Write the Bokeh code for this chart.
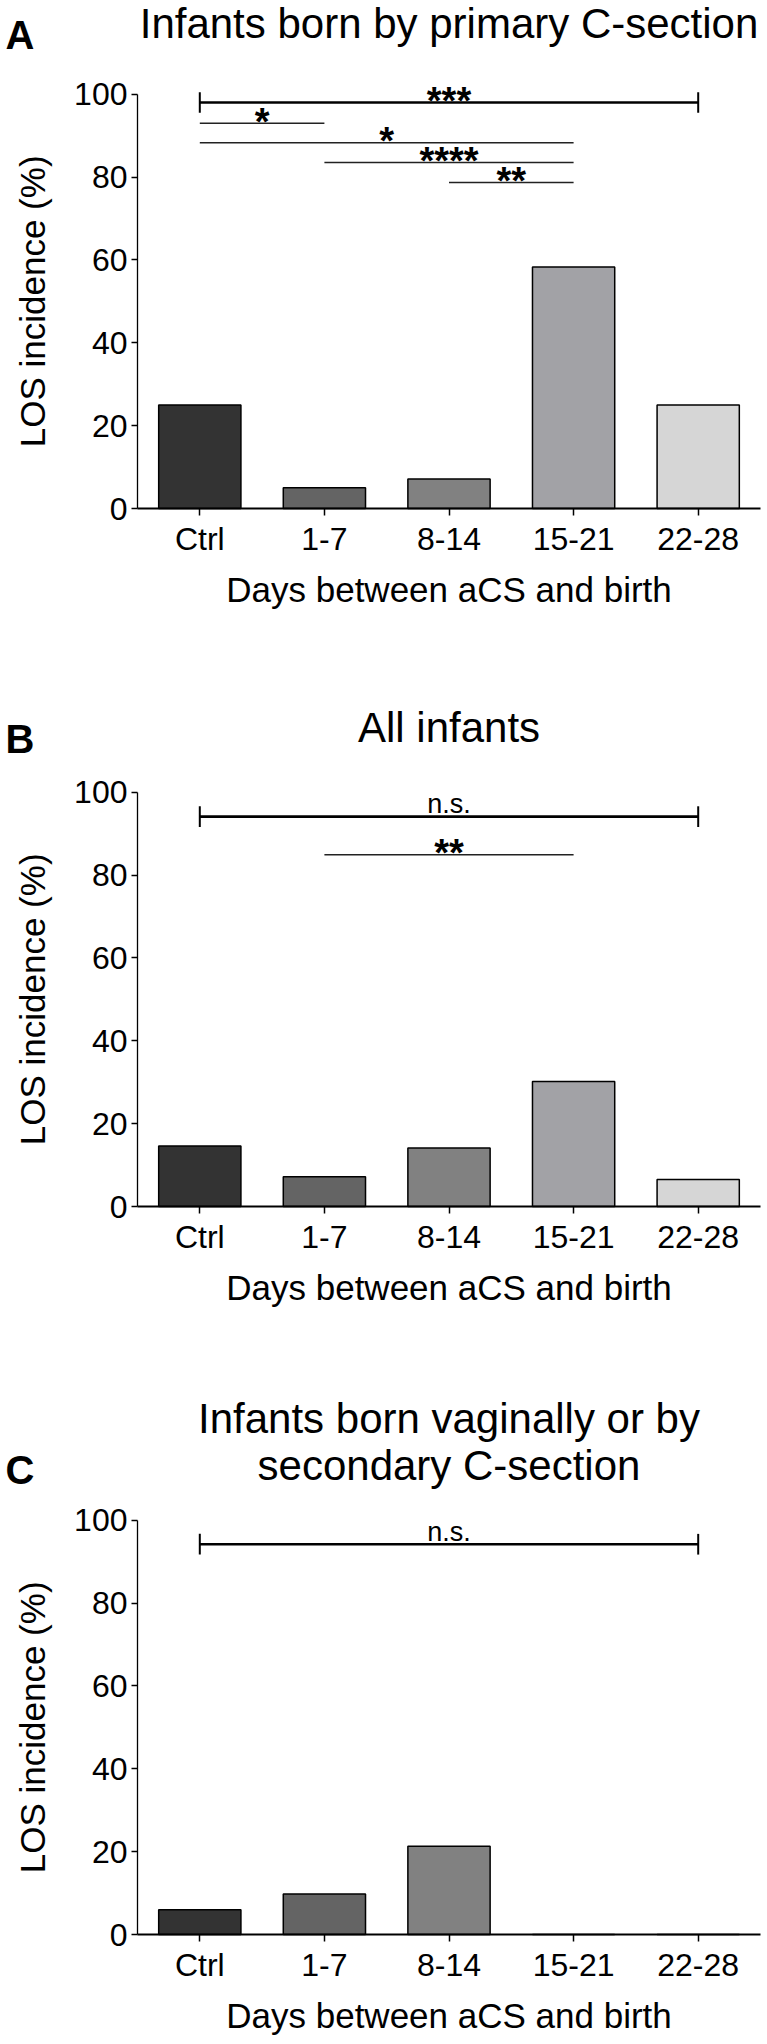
from bokeh.plotting import figure
from bokeh.layouts import column
from bokeh.models import Range1d, FixedTicker, Label
from bokeh.core.properties import value
from bokeh.embed import file_html
from bokeh.resources import INLINE
import math

# ---- data -------------------------------------------------------------
categories = ["Ctrl", "1-7", "8-14", "15-21", "22-28"]
y_ticks = [0, 20, 40, 60, 80, 100]

los_primary_cs = [25.0, 5.0, 7.1, 58.3, 25.0]
los_all = [14.6, 7.2, 14.1, 30.2, 6.5]
los_vaginal_secondary = [6.0, 9.8, 21.3, 0.0, 0.0]

title_primary_cs = ["Infants born by primary C-section"]
title_all = ["All infants"]
title_vaginal_secondary = ["Infants born vaginally or by", "secondary C-section"]

# comparisons: (from group, to group, bracket height in %, annotation)
overall_primary_cs = ("Ctrl", "22-28", 98.0, "***")
pairs_primary_cs = [("Ctrl", "1-7", 93.0, "*"),
                    ("Ctrl", "15-21", 88.3, "*"),
                    ("1-7", "15-21", 83.5, "****"),
                    ("8-14", "15-21", 78.7, "**")]
overall_all = ("Ctrl", "22-28", 94.1, "n.s.")
pairs_all = [("1-7", "15-21", 84.9, "**")]
overall_vaginal_secondary = ("Ctrl", "22-28", 94.2, "n.s.")
pairs_vaginal_secondary = []

x_label = "Days between aCS and birth"
y_label = "LOS incidence (%)"

# ---- styling ----------------------------------------------------------
bar_fill = ["#333333", "#646464", "#818181", "#a2a2a6", "#d6d6d6"]
FONT_NAME = "Liberation Sans"
FONT = value(FONT_NAME)
W = 767
AXIS_X_PX = 137          # pixel column of the y axis
PX_PER_CAT = 124.6       # pixels per category slot
PX_PER_PCT = 4.143       # pixels per percentage point


def make_panel(vals, title_lines, title_mid, letter, letter_mid,
               overall, pairs, zero_px, height):
    """One bar panel; the plotting frame fills the whole canvas and the
    axes are pinned at x=-0.5 / y=0 so that every text stays inside it."""

    def xd(px):
        return -0.5 + (px - AXIS_X_PX) / PX_PER_CAT

    def yd(px):
        return (zero_px - px) / PX_PER_PCT

    p = figure(width=W, height=height, output_backend="svg",
               toolbar_location=None,
               x_range=Range1d(xd(0), xd(W)), y_range=Range1d(yd(height), yd(0)),
               min_border=0, min_border_left=0, min_border_right=0,
               min_border_top=0, min_border_bottom=0)
    p.outline_line_color = None
    p.grid.visible = False
    p.background_fill_color = "white"
    p.border_fill_color = "white"

    idx = {c: i for i, c in enumerate(categories)}

    # bars
    p.vbar(x=list(range(len(categories))), top=vals, width=0.66, bottom=0,
           fill_color=bar_fill, line_color="black", line_width=1.5)

    # overall comparison bracket with end caps
    a, b, yv, txt = overall
    p.segment(x0=[idx[a]], x1=[idx[b]], y0=[yv], y1=[yv],
              line_color="black", line_width=2.7)
    p.segment(x0=[idx[a], idx[b]], x1=[idx[a], idx[b]],
              y0=[yv - 2.5] * 2, y1=[yv + 2.5] * 2,
              line_color="black", line_width=2)
    mid = (idx[a] + idx[b]) / 2
    if txt.startswith("*"):
        p.text(x=[mid], y=[yv + 0.35], text=[txt], text_font=FONT,
               text_font_size="38px", text_font_style="bold",
               text_align="center", text_baseline="middle",
               text_color="black")
    else:
        p.text(x=[mid], y=[yv + 3.0], text=[txt], text_font=FONT,
               text_font_size="27px", text_align="center",
               text_baseline="middle", text_color="black")

    # pairwise comparisons
    for a, b, yv, txt in pairs:
        p.segment(x0=[idx[a]], x1=[idx[b]], y0=[yv], y1=[yv],
                  line_color="#222222", line_width=1.5)
        p.text(x=[(idx[a] + idx[b]) / 2], y=[yv + 0.35], text=[txt],
               text_font=FONT, text_font_size="38px",
               text_font_style="bold", text_align="center",
               text_baseline="middle", text_color="black")

    # axes pinned inside the frame
    xa = p.xaxis[0]
    xa.fixed_location = 0
    xa.bounds = (-0.5, 4.5)
    xa.ticker = FixedTicker(ticks=list(range(len(categories))))
    xa.major_label_overrides = {i: c for i, c in enumerate(categories)}
    xa.major_label_text_font = FONT_NAME
    xa.major_label_text_font_size = "32px"
    xa.major_label_text_color = "black"
    xa.major_label_standoff = 5
    xa.major_tick_out = 7
    xa.major_tick_in = 0
    xa.minor_tick_out = 0
    xa.minor_tick_in = 0
    xa.axis_line_width = 2
    xa.major_tick_line_width = 1.5
    xa.axis_line_color = "black"

    ya = p.yaxis[0]
    ya.fixed_location = -0.5
    ya.ticker = FixedTicker(ticks=y_ticks)
    ya.bounds = (0, 100)
    ya.major_label_text_font = FONT_NAME
    ya.major_label_text_font_size = "32px"
    ya.major_label_text_color = "black"
    ya.major_label_standoff = 4
    ya.major_tick_out = 6
    ya.major_tick_in = 0
    ya.minor_tick_out = 0
    ya.minor_tick_in = 0
    ya.axis_line_width = 1.3
    ya.major_tick_line_width = 1.3
    ya.axis_line_color = "black"

    # axis titles
    p.add_layout(Label(x=2.0, y=yd(zero_px + 81), text=x_label,
                       text_font=FONT_NAME, text_font_size="35px",
                       text_align="center", text_baseline="middle",
                       text_color="black"))
    p.add_layout(Label(x=xd(32), y=50, text=y_label, angle=math.pi / 2,
                       text_font=FONT_NAME, text_font_size="35px",
                       text_align="center", text_baseline="middle",
                       text_color="black"))

    # panel title and letter
    for line, m in zip(title_lines, title_mid):
        p.add_layout(Label(x=2.0, y=yd(m), text=line, text_font=FONT_NAME,
                           text_font_size="42px", text_align="center",
                           text_baseline="middle", text_color="black"))
    p.add_layout(Label(x=xd(5), y=yd(letter_mid), text=letter,
                       text_font=FONT_NAME, text_font_size="40px",
                       text_font_style="bold", text_align="left",
                       text_baseline="middle", text_color="black"))
    return p


pa = make_panel(los_primary_cs, title_primary_cs, [23], "A", 34,
                overall_primary_cs, pairs_primary_cs, zero_px=508, height=620)
pb = make_panel(los_all, title_all, [107], "B", 118,
                overall_all, pairs_all, zero_px=586, height=720)
pc = make_panel(los_vaginal_secondary, title_vaginal_secondary, [78, 125],
                "C", 129, overall_vaginal_secondary, pairs_vaginal_secondary,
                zero_px=594, height=704)

layout = column(pa, pb, pc, spacing=0)
open("out.html", "w").write(file_html(layout, INLINE))
